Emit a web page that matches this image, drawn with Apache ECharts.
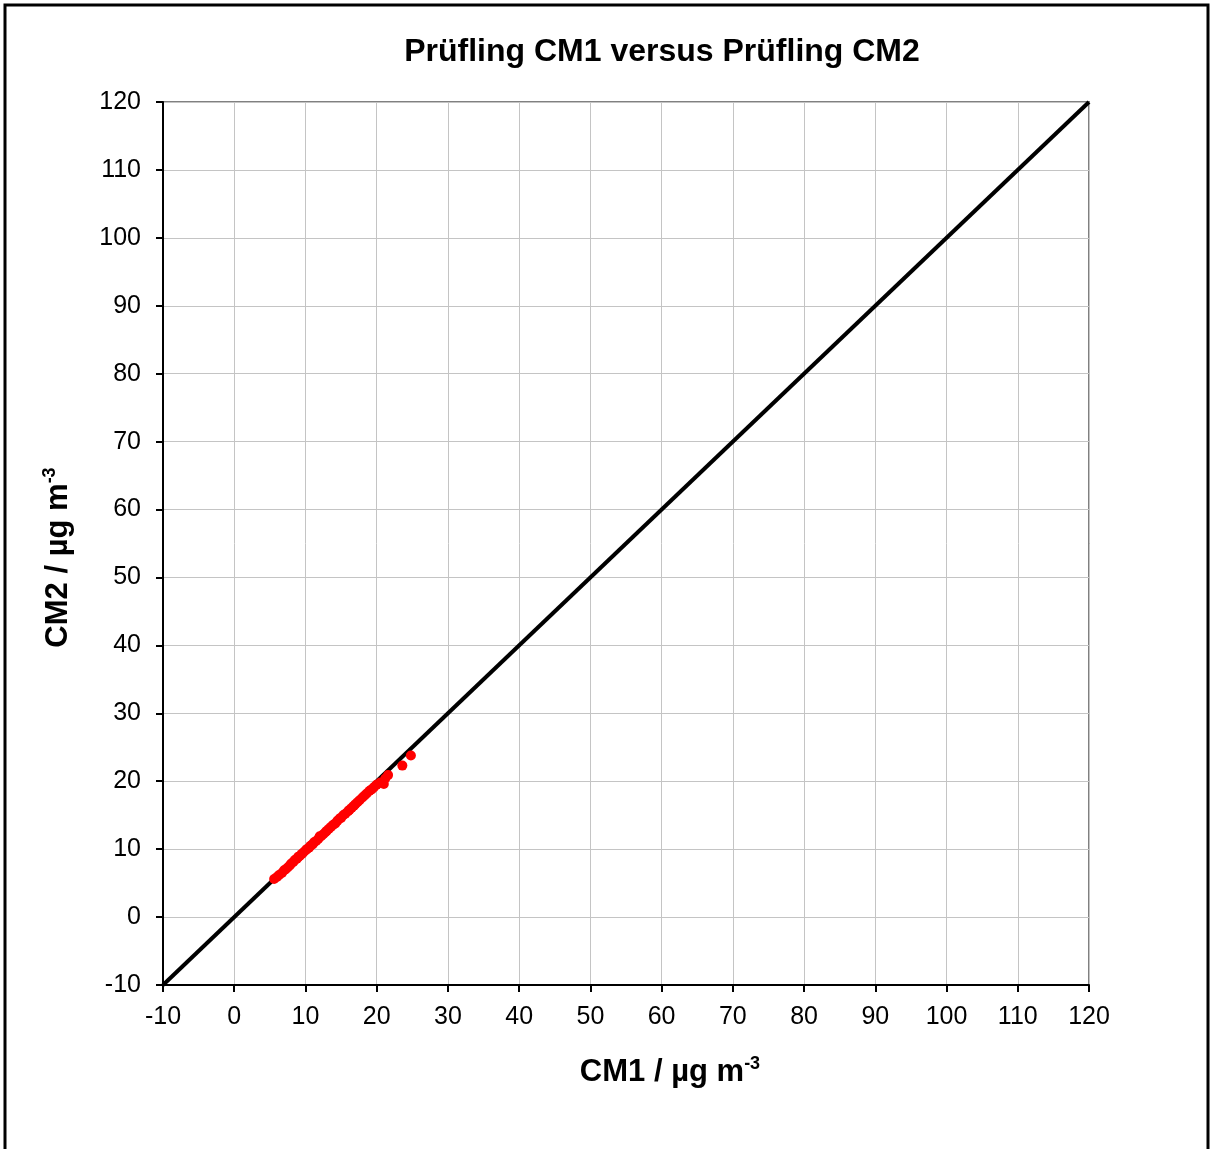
<!DOCTYPE html>
<html>
<head>
<meta charset="utf-8">
<script src="https://cdn.jsdelivr.net/npm/echarts@6/dist/echarts.min.js"></script>
<style>
  html, body { margin: 0; padding: 0; background: #fff; }
  #chart { width: 1211px; height: 1149px; }
</style>
</head>
<body>
<div id="chart"></div>
<script>
// measured pairs, CM1 (x) vs CM2 (y)
const cm1 = [5.6, 6.0, 6.3, 6.7, 7.0, 7.2, 7.5, 7.8, 8.0, 8.3, 8.5, 8.8, 9.0, 9.2, 9.5, 9.7, 10.0, 10.2, 10.5, 10.7,
  11.0, 11.2, 11.5, 11.8, 12.0, 12.2, 12.5, 12.8, 13.0, 13.3, 13.6, 13.9, 14.2, 14.5, 14.8, 15.0, 15.3, 15.6, 16.0, 16.2,
  16.5, 16.8, 17.0, 17.3, 17.6, 18.0, 18.3, 18.6, 19.0, 19.3, 19.6, 20.0, 20.5, 21.0, 21.2, 21.6, 23.6, 24.8];
const cm2 = [5.6, 5.9, 6.2, 6.5, 6.9, 7.0, 7.3, 7.6, 7.9, 8.1, 8.4, 8.6, 8.9, 9.0, 9.3, 9.5, 9.8, 10.0, 10.2, 10.5,
  10.7, 11.0, 11.2, 11.5, 11.9, 11.9, 12.2, 12.5, 12.7, 13.0, 13.3, 13.6, 13.8, 14.2, 14.5, 14.6, 15.0, 15.2, 15.6, 15.8,
  16.1, 16.4, 16.6, 16.9, 17.2, 17.6, 17.9, 18.2, 18.6, 18.8, 19.1, 19.5, 19.8, 19.6, 20.4, 20.9, 22.3, 23.8];
// 1:1 reference line
const diagX = [-10, 120];
const diagY = [-10, 120];

const axisMin = -10;
const axisMax = 120;
const axisStep = 10;

const chart = echarts.init(document.getElementById('chart'));

const points = cm1.map((x, i) => [x, cm2[i]]);
const diag = diagX.map((x, i) => [x, diagY[i]]);

const labelFont = { fontFamily: 'Liberation Sans', fontSize: 25, color: '#000' };
const nameRich = {
  m: { fontFamily: 'Liberation Sans', fontSize: 31, fontWeight: 'bold', color: '#000', lineHeight: 34 },
  s: { fontFamily: 'Liberation Sans', fontSize: 18, fontWeight: 'bold', color: '#000', verticalAlign: 'top', lineHeight: 34 }
};

const option = {
  animation: false,
  backgroundColor: '#fff',
  graphic: [{
    type: 'rect',
    shape: { x: 5, y: 5, width: 1203, height: 1170 },
    style: { fill: 'none', stroke: '#000', lineWidth: 3 },
    silent: true
  }],
  title: {
    text: 'Prüfling CM1 versus Prüfling CM2',
    left: 657,
    top: 31,
    textAlign: 'center',
    textStyle: { fontFamily: 'Liberation Sans', fontSize: 32, fontWeight: 'bold', color: '#000' }
  },
  grid: {
    left: 163, top: 102, width: 926, height: 883,
    show: true, borderColor: '#808080', borderWidth: 2
  },
  xAxis: {
    type: 'value',
    min: axisMin, max: axisMax, interval: axisStep,
    name: '{m|CM1 / µg m}{s|-3}',
    nameLocation: 'middle',
    nameGap: 70,
    nameTextStyle: { rich: nameRich, padding: [0, 0, 0, 88] },
    axisLine: { show: true, onZero: false, lineStyle: { color: '#000', width: 2 } },
    axisTick: { show: true, inside: false, length: 7, lineStyle: { color: '#000', width: 2 } },
    axisLabel: Object.assign({ margin: 20 }, labelFont),
    splitLine: { show: true, lineStyle: { color: '#c4c4c4', width: 1 } }
  },
  yAxis: {
    type: 'value',
    min: axisMin, max: axisMax, interval: axisStep,
    name: '{m|CM2 / µg m}{s|-3}',
    nameLocation: 'middle',
    nameGap: 88,
    nameRotate: 90,
    nameTextStyle: { rich: nameRich, padding: [0, 28, 0, 0] },
    axisLine: { show: true, onZero: false, lineStyle: { color: '#000', width: 2 } },
    axisTick: { show: true, inside: false, length: 7, lineStyle: { color: '#000', width: 2 } },
    axisLabel: Object.assign({ margin: 22 }, labelFont),
    splitLine: { show: true, lineStyle: { color: '#c4c4c4', width: 1 } }
  },
  series: [
    {
      name: '1:1',
      type: 'line',
      data: diag,
      showSymbol: false,
      lineStyle: { color: '#000', width: 4 },
      z: 2
    },
    {
      name: 'CM1 vs CM2',
      type: 'scatter',
      data: points,
      symbol: 'circle',
      symbolSize: 10,
      itemStyle: { color: '#ff0000', opacity: 1 },
      z: 3
    }
  ]
};

chart.setOption(option);
</script>
</body>
</html>
